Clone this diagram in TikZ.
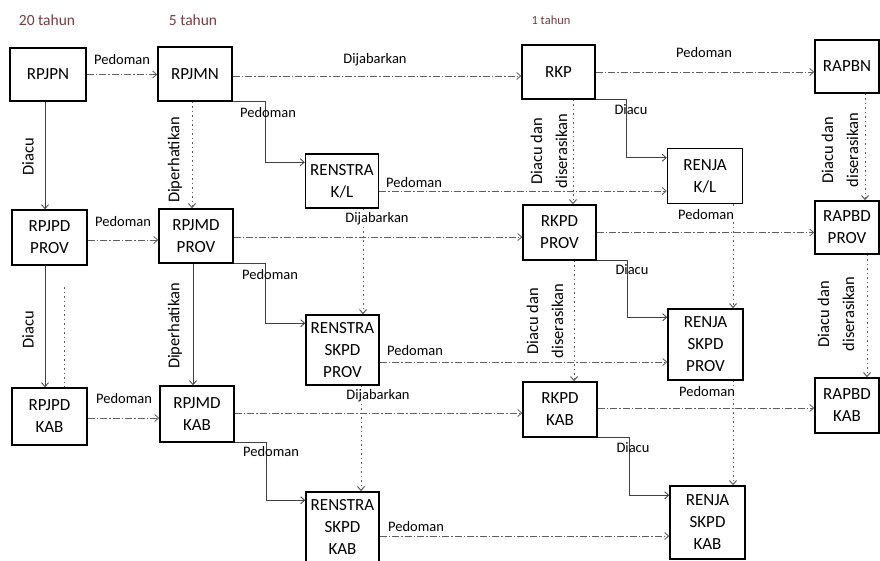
\documentclass[tikz,border=0pt]{standalone}
\usepackage{fontspec}
\setmainfont{Carlito}
\usetikzlibrary{arrows.meta,calc}
\definecolor{hdrcol}{RGB}{115,62,66}
\definecolor{lncol}{RGB}{95,95,95}
\tikzset{
  box/.style={draw=black,line width=1.5pt,align=center,inner sep=0pt,
    font=\fontsize{17}{22}\selectfont,text=black},
  lbl/.style={font=\fontsize{14.5}{18}\selectfont,inner sep=1pt,text=black},
  wlbl/.style={lbl,fill=white},
  rlbl/.style={lbl,rotate=90,align=center,font=\fontsize{16.5}{25}\selectfont},
  hdr/.style={font=\fontsize{15.5}{17}\selectfont,text=hdrcol},
  arr/.style={-{Straight Barb[length=4pt,width=7pt]},line width=0.8pt},
  hline/.style={arr,draw=lncol,dash pattern=on 7pt off 2pt on 1.5pt off 2pt},
  vdot/.style={arr,draw=lncol,line width=1pt,dash pattern=on 1.5pt off 3pt},
  solidln/.style={arr,draw=black!75},
}
\begin{document}
\begin{tikzpicture}[x=1pt,y=-1pt]
\useasboundingbox (0,0) rectangle (880,561);
\fill[white] (0,0) rectangle (880,561);

% headings
\node[hdr] (h20) at (47,20) {20 tahun};
\node[hdr] (h5) at (193,20) {5 tahun};
\node[hdr,font=\fontsize{12.5}{14}\selectfont] (h1) at (551,20) {1 tahun};

% row 1
\node[box,minimum width=76pt,minimum height=53pt] (rpjpn) at (48,74.5) {RPJPN};
\node[box,minimum width=74pt,minimum height=54pt] (rpjmn) at (195,74) {RPJMN};
\node[box,minimum width=73pt,minimum height=54pt] (rkp) at (558.5,72) {RKP};
\node[box,minimum width=64pt,minimum height=53pt] (rapbn) at (847,66.5) {RAPBN};
\node[box,minimum width=73pt,minimum height=54pt] (renstrakl) at (342,181) {RENSTRA\\K/L};
\node[box,minimum width=75pt,minimum height=55pt] (renjakl) at (705,176) {RENJA\\K/L};

% row 2
\node[box,minimum width=75pt,minimum height=55pt] (rpjpdprov) at (49.5,237.5) {RPJPD\\PROV};
\node[box,minimum width=74pt,minimum height=54pt] (rpjmdprov) at (196,236) {RPJMD\\PROV};
\node[box,minimum width=73pt,minimum height=55pt] (rkpdprov) at (559.5,232.5) {RKPD\\PROV};
\node[box,minimum width=64pt,minimum height=53pt] (rapbdprov) at (847,227.5) {RAPBD\\PROV};
\node[box,minimum width=73pt,minimum height=70pt] (renstraprov) at (342.5,350) {RENSTRA\\SKPD\\PROV};
\node[box,minimum width=75pt,minimum height=71pt] (renjaprov) at (705.5,344.5) {RENJA\\SKPD\\PROV};

% row 3
\node[box,minimum width=75pt,minimum height=57pt] (rpjpdkab) at (49.5,416.5) {RPJPD\\KAB};
\node[box,minimum width=74pt,minimum height=56pt] (rpjmdkab) at (197,414) {RPJMD\\KAB};
\node[box,minimum width=74pt,minimum height=55pt] (rkpdkab) at (560,409.5) {RKPD\\KAB};
\node[box,minimum width=64pt,minimum height=55pt] (rapbdkab) at (847,405.5) {RAPBD\\KAB};
\node[box,minimum width=73pt,minimum height=70pt] (renstrakab) at (342.5,527) {RENSTRA\\SKPD\\KAB};
\node[box,minimum width=75pt,minimum height=73pt] (renjakab) at (707.5,522.5) {RENJA\\SKPD\\KAB};

% horizontal dashed connectors
\draw[hline] (rpjpn.east) -- (rpjpn.east -| rpjmn.west);
\draw[hline] ([yshift=-2pt]rpjmn.east) -- ([yshift=-2pt]rpjmn.east -| rkp.west);
\draw[hline] (rkp.east) -- (rkp.east -| rapbn.west);
\draw[hline] ([yshift=-10pt]renstrakl.east) -- ([yshift=-10pt]renstrakl.east -| renjakl.west);
\draw[hline] ([yshift=-2.5pt]rpjpdprov.east) -- ([yshift=-2.5pt]rpjpdprov.east -| rpjmdprov.west);
\draw[hline] ([yshift=-1pt]rpjmdprov.east) -- ([yshift=-1pt]rpjmdprov.east -| rkpdprov.west);
\draw[hline] (rkpdprov.east) -- (rkpdprov.east -| rapbdprov.west);
\draw[hline] ([yshift=-12pt]renstraprov.east) -- ([yshift=-12pt]renstraprov.east -| renjaprov.west);
\draw[hline] ([yshift=-1.5pt]rpjpdkab.east) -- ([yshift=-1.5pt]rpjpdkab.east -| rpjmdkab.west);
\draw[hline] ([yshift=1pt]rpjmdkab.east) -- ([yshift=1pt]rpjmdkab.east -| rkpdkab.west);
\draw[hline] ([yshift=1.5pt]rkpdkab.east) -- ([yshift=1.5pt]rkpdkab.east -| rapbdkab.west);
\draw[hline] ([yshift=-9pt]renstrakab.east) -- ([yshift=-9pt]renstrakab.east -| renjakab.west);

% vertical connectors
\draw[solidln] ([xshift=-3pt]rpjpn.south) -- ([xshift=-3pt]rpjpn.south |- rpjpdprov.north);
\draw[vdot] ([xshift=-3pt]rpjmn.south) -- ([xshift=-3pt]rpjmn.south |- rpjmdprov.north);
\draw[vdot] ([xshift=14.5pt]rkp.south) -- ([xshift=14.5pt]rkp.south |- rkpdprov.north);
\draw[vdot] ([xshift=18pt]rapbn.south) -- ([xshift=18pt]rapbn.south |- rapbdprov.north);
\draw[vdot] ([xshift=21pt]renstrakl.south) -- ([xshift=21pt]renstrakl.south |- renstraprov.north);
\draw[vdot] ([xshift=28pt]renjakl.south) -- ([xshift=28pt]renjakl.south |- renjaprov.north);
\draw[solidln] ([xshift=-4.5pt]rpjpdprov.south) -- ([xshift=-4.5pt]rpjpdprov.south |- rpjpdkab.north);
\coordinate (dA) at (64,287);
\draw[draw=lncol,line width=1pt,dash pattern=on 1.5pt off 3pt] (dA) -- (dA |- rpjpdkab.north);
\draw[solidln] ([xshift=-3pt]rpjmdprov.south) -- ([xshift=-3pt]rpjmdprov.south |- rpjmdkab.north);
\draw[vdot] ([xshift=14.5pt]rkpdprov.south) -- ([xshift=14.5pt]rkpdprov.south |- rkpdkab.north);
\draw[vdot] ([xshift=20pt]rapbdprov.south) -- ([xshift=20pt]rapbdprov.south |- rapbdkab.north);
\draw[vdot] ([xshift=18.5pt]renstraprov.south) -- ([xshift=18.5pt]renstraprov.south |- renstrakab.north);
\draw[vdot] ([xshift=27.5pt]renjaprov.south) -- ([xshift=27.5pt]renjaprov.south |- renjakab.north);

% elbow connectors
\draw[solidln] (rpjmn.south east) -- ++(33,0) |- ([yshift=-9pt]renstrakl.north west);
\draw[solidln] (rkp.south east) -- ++(31,0) |- ([yshift=-10pt]renjakl.north west);
\draw[solidln] (rpjmdprov.south east) -- ++(32,0) |- ([yshift=-9pt]renstraprov.north west);
\draw[solidln] (rkpdprov.south east) -- ++(31,0) |- ([yshift=-9pt]renjaprov.north west);
\draw[solidln] (rpjmdkab.south east) -- ++(32,0) |- ([yshift=-9pt]renstrakab.north west);
\draw[solidln] (rkpdkab.south east) -- ++(32,0) |- ([yshift=-10pt]renjakab.north west);

% labels row 1
\node[lbl] (l1) at (122,60) {Pedoman};
\node[lbl] (l2) at (375,60) {Dijabarkan};
\node[lbl] (l3) at (704,53) {Pedoman};
\node[lbl] (l4) at (268,113) {Pedoman};
\node[lbl] (l5) at (631,110) {Diacu};
\node[lbl] (l6) at (414,183) {Pedoman};
\node[rlbl] (l7) at (28,157) {Diacu};
\node[rlbl] (l8) at (175,160) {Diperhatikan};
\node[rlbl] (l9) at (549,151) {Diacu dan\\diserasikan};
\node[rlbl] (l10) at (840,150) {Diacu dan\\diserasikan};

% labels row 2
\node[lbl] (l11) at (123,222) {Pedoman};
\node[wlbl] (l12) at (377,219) {Dijabarkan};
\node[wlbl] (l13) at (706,215) {Pedoman};
\node[lbl] (l14) at (270,275) {Pedoman};
\node[lbl] (l15) at (632,270) {Diacu};
\node[lbl] (l16) at (415,351) {Pedoman};
\node[rlbl] (l17) at (28,330) {Diacu};
\node[rlbl] (l18) at (175,326) {Diperhatikan};
\node[rlbl] (l19) at (545,321) {Diacu dan\\diserasikan};
\node[rlbl] (l20) at (836,314) {Diacu dan\\diserasikan};

% labels row 3
\node[lbl] (l21) at (124,399) {Pedoman};
\node[wlbl] (l22) at (378,396) {Dijabarkan};
\node[wlbl] (l23) at (707,392) {Pedoman};
\node[lbl] (l24) at (271,452) {Pedoman};
\node[lbl] (l25) at (633,448) {Diacu};
\node[lbl] (l26) at (416,527) {Pedoman};
\end{tikzpicture}
\end{document}
